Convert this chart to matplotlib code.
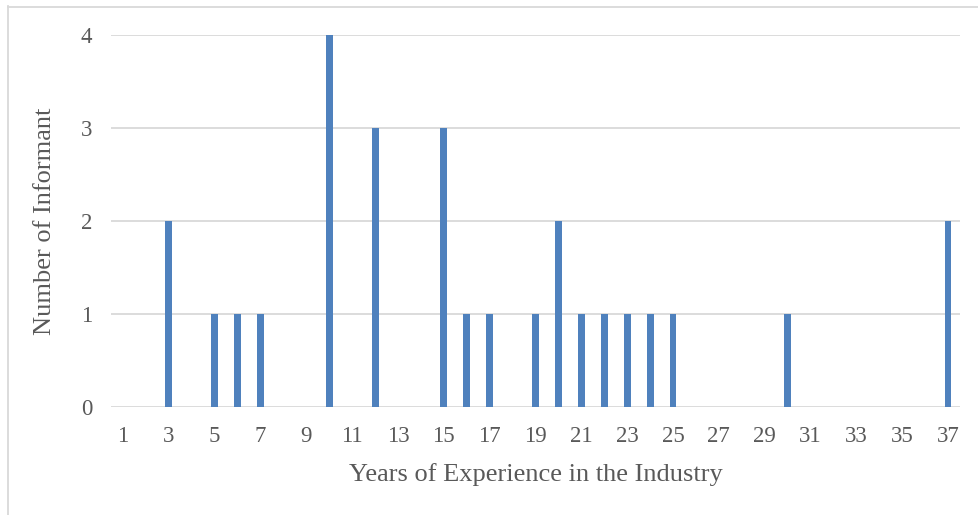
import matplotlib.pyplot as plt
from matplotlib.lines import Line2D

# Years of experience and how many informants reported each
years = [3, 5, 6, 7, 10, 12, 15, 16, 17, 19, 20, 21, 22, 23, 24, 25, 30, 37]
informants = [2, 1, 1, 1, 4, 3, 3, 1, 1, 1, 2, 1, 1, 1, 1, 1, 1, 2]
tick_years = list(range(1, 38, 2))

plt.rcParams['font.family'] = ['Liberation Serif', 'DejaVu Serif']
text_color = '#595959'
grid_color = '#D9D9D9'
bar_color = '#4F81BD'

fig = plt.figure(figsize=(9.79, 5.15), dpi=100)
ax = fig.add_axes([111.5 / 979, 1 - 407 / 515, 848 / 979, 372 / 515])

ax.bar(years, informants, width=0.3, color=bar_color, zorder=3)

ax.set_xlim(0.5, 37.5)
ax.set_ylim(0, 4)
ax.set_xticks(tick_years)
ax.set_yticks(range(0, 5))
ax.tick_params(axis='both', length=0, labelsize=16.5, colors=text_color)
ax.tick_params(axis='x', pad=14)
ax.tick_params(axis='y', pad=14)
ax.grid(axis='y', color=grid_color, linewidth=1.3, zorder=0)
for side in ['top', 'right', 'left', 'bottom']:
    ax.spines[side].set_visible(False)

ax.set_xlabel('Years of Experience in the Industry', fontsize=19,
              color=text_color, labelpad=11)
ax.set_ylabel('Number of Informant', fontsize=19, color=text_color,
              labelpad=18)

# light chart frame along the top and left edges
fig.add_artist(Line2D([8.5 / 979, 8.5 / 979], [0, 1 - 6 / 515],
                      transform=fig.transFigure, color=grid_color, lw=1.3))
fig.add_artist(Line2D([8.5 / 979, 1], [1 - 6.5 / 515, 1 - 6.5 / 515],
                      transform=fig.transFigure, color=grid_color, lw=1.3))

fig.savefig('out.png', dpi=100)
